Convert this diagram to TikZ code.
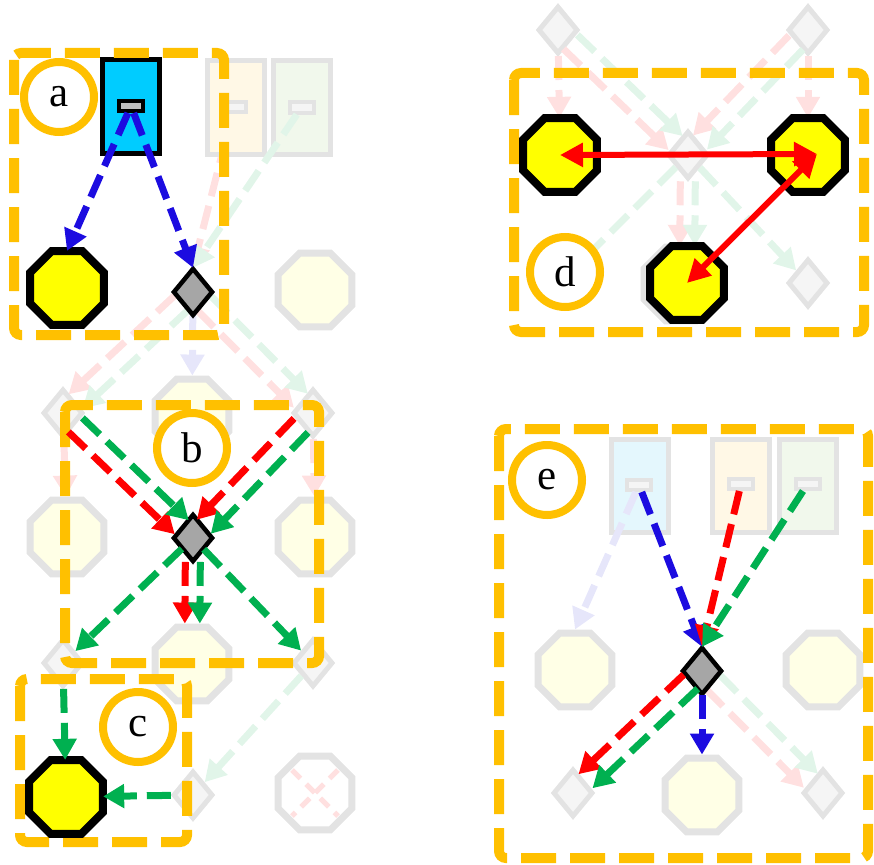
\documentclass[tikz,border=0pt]{standalone}
\usepackage{fontspec}
\setmainfont{Liberation Serif}
\usetikzlibrary{shapes.geometric,arrows.meta}

\definecolor{boxorange}{RGB}{255,192,0}
\definecolor{hired}{RGB}{255,0,0}
\definecolor{higreen}{RGB}{0,176,80}
\definecolor{hiblue}{RGB}{28,12,224}
\definecolor{hicyan}{RGB}{0,204,255}
\definecolor{hiyellow}{RGB}{255,255,0}
\definecolor{digray}{RGB}{166,166,166}
\definecolor{portgray}{RGB}{192,192,192}
\definecolor{fadeline}{RGB}{227,227,227}
\definecolor{fadefill}{RGB}{245,245,245}
\definecolor{fadeyellow}{RGB}{255,255,230}
\definecolor{fadered}{RGB}{255,224,224}
\definecolor{fadegreen}{RGB}{225,245,233}
\definecolor{fadeblue}{RGB}{230,230,250}
\definecolor{fadecyan}{RGB}{228,247,253}
\definecolor{fadeorange}{RGB}{255,248,230}
\definecolor{fadelime}{RGB}{241,248,236}

\tikzset{
  oct/.style={regular polygon, regular polygon sides=8, minimum size=80pt, inner sep=0pt},
  hioct/.style={oct, draw=black, line width=8pt, fill=hiyellow},
  faoct/.style={oct, draw=fadeline, line width=7pt, fill=fadeyellow},
  dia/.style={diamond, minimum width=40pt, minimum height=48pt, inner sep=0pt},
  hidia/.style={dia, draw=black, line width=4.5pt, fill=digray},
  fadia/.style={dia, draw=fadeline, line width=5pt, fill=fadefill},
  blk/.style={rectangle, minimum width=57pt, minimum height=93pt, inner sep=0pt, line width=5pt},
  hiblk/.style={blk, draw=black, fill=hicyan},
  fablk/.style={blk, draw=fadeline, fill=#1},
  port/.style={rectangle, minimum width=24pt, minimum height=10pt, inner sep=0pt, line width=4pt},
  hiport/.style={port, draw=black, fill=portgray},
  faport/.style={port, draw=fadeline, fill=fadefill},
  tag/.style={circle, draw=boxorange, line width=8pt, fill=white, minimum size=70pt,
    inner sep=0pt, font=\fontsize{43pt}{43pt}\selectfont},
  panel/.style={draw=boxorange, line width=10pt, dash pattern=on 35pt off 14pt,
    rounded corners=7pt},
  tip/.style={-{Triangle[length=21pt,width=23pt]}},
  flow/.style={line width=7pt, dash pattern=on 24pt off 10pt, tip},
  blueflow/.style={flow, draw=hiblue},
  redflow/.style={flow, draw=hired},
  greenflow/.style={flow, draw=higreen},
  pinkflow/.style={flow, draw=fadered},
  mintflow/.style={flow, draw=fadegreen},
  lavflow/.style={flow, draw=fadeblue},
  lnk/.style={line width=6pt, draw=hired,
    {Triangle[length=23pt,width=23pt]}-{Triangle[length=23pt,width=23pt]}},
  nudge/.style={transform canvas={shift={#1}}}
}

\begin{document}
\begin{tikzpicture}[x=1pt,y=-1pt]
\useasboundingbox (0,0) rectangle (874,864);

% anchor-only nodes for the highlighted shapes (painted further down)
\node[dia] (d1) at (193,292) {};
\node[oct] (o1) at (67,288) {};
\node[dia] (d4) at (193,538) {};
\node[oct] (o7) at (66,797) {};
\node[oct] (o9) at (560,155) {};
\node[oct] (o10) at (808,155) {};
\node[oct] (o11) at (687,283) {};
\node[dia] (d12) at (702,671) {};

% ---------- left graph: source blocks ----------
\coordinate (pbc) at (234,107);
\draw[pinkflow] (pbc) -- (d1.north);
\node[hiblk] (ra) at (131,106.5) {};
\node[hiport] (pa) at (131,106) {};
\node[fablk=fadeorange] (rb) at (235.5,107.5) {};
\node[faport] (pb) at (pbc) {};
\node[fablk=fadelime] (rc) at (301.5,107.5) {};
\node[faport] (pc) at (301.5,107.5) {};

% ---------- left graph: faded nodes ----------
\node[faoct] (o2) at (315,290) {};
\node[fadia] (d2) at (63,413) {};
\node[faoct] (o3) at (192,416) {};
\node[fadia] (d3) at (313,413) {};
\node[faoct] (o4) at (67,537) {};
\node[faoct] (o5) at (315,537) {};
\node[fadia] (d5) at (63,663) {};
\node[faoct] (o6) at (192,664) {};
\node[fadia] (d6) at (313,663) {};
\node[fadia] (d7) at (193,795) {};
\node[faoct, fill=white] (o8) at (315,793) {};

% ---------- right upper graph: faded nodes ----------
\node[fadia] (d8) at (558,30) {};
\node[fadia] (d9) at (808,30) {};
\node[fadia] (d10) at (688,155) {};
\node[fadia] (d11) at (808,283) {};
\node[faoct] (o11b) at (681,284) {};
\coordinate (dhid) at (560,283);

% ---------- right lower graph: faded nodes ----------
\node[fablk=fadecyan] (re1) at (640,485.5) {};
\node[faport] (pe1) at (639,485) {};
\node[fablk=fadeorange] (re2) at (741,485.5) {};
\node[faport] (pe2) at (741,484) {};
\node[fablk=fadelime] (re3) at (808,485.5) {};
\node[faport] (pe3) at (807.5,484) {};
\node[faoct] (o12) at (575,670) {};
\node[faoct] (o13) at (823,670) {};
\node[fadia] (d13) at (573,793) {};
\node[faoct] (o14) at (702,795) {};
\node[fadia] (d14) at (823,793) {};

% ---------- faded connectors ----------
\draw[mintflow] (pc) -- (d1.north);
\draw[lavflow] (d1) -- (o3);
\draw[pinkflow, nudge={(-7pt,7pt)}] (d1) -- (d2);
\draw[mintflow, nudge={(7pt,-7pt)}] (d1) -- (d2);
\draw[pinkflow, nudge={(-7pt,-7pt)}] (d1) -- (d3);
\draw[mintflow, nudge={(7pt,7pt)}] (d1) -- (d3);
\draw[pinkflow] (d2) -- (o4);
\draw[pinkflow] (d3) -- (o5);
\draw[mintflow] (d6) -- (d7);
\draw[fadered, line width=5pt, dash pattern=on 12pt off 8pt]
  ([shift={(-23pt,23pt)}]o8.center) -- ([shift={(23pt,-23pt)}]o8.center);
\draw[fadered, line width=5pt, dash pattern=on 12pt off 8pt]
  ([shift={(23pt,23pt)}]o8.center) -- ([shift={(-23pt,-23pt)}]o8.center);

\draw[pinkflow] (d8) -- (o9);
\draw[pinkflow] (d9) -- (o10);
\draw[pinkflow, nudge={(-7pt,-7pt)}] (d8) -- (d10);
\draw[mintflow, nudge={(7pt,7pt)}] (d8) -- (d10);
\draw[pinkflow, nudge={(-7pt,7pt)}] (d9) -- (d10);
\draw[mintflow, nudge={(7pt,-7pt)}] (d9) -- (d10);
\draw[pinkflow, nudge={(-7.5pt,0pt)}] (d10) -- (o11);
\draw[mintflow, nudge={(7.5pt,0pt)}] (d10) -- (o11);
\draw[mintflow] (d10) -- (d11);
\draw[mintflow] (d10) -- (dhid);

\draw[lavflow] (pe1) -- (o12.north);
\draw[pinkflow, nudge={(-7pt,-7pt)}] (d12) -- (d14);
\draw[mintflow, nudge={(7pt,7pt)}] (d12) -- (d14);

% ---------- panel frames ----------
\draw[panel] (14,53) rectangle (224,335);
\draw[panel] (65,405) rectangle (319,663);
\draw[panel] (20,679) rectangle (187,842);
\draw[panel] (514,73) rectangle (864,332);
\draw[panel] (499,429) rectangle (868,858);

% ---------- highlighted nodes ----------
\node[hioct] at (o1) {};
\node[hidia] at (d1) {};
\node[hidia] at (d4) {};
\node[hioct] at (o7) {};
\node[hioct] at (o9) {};
\node[hioct] at (o10) {};
\node[hioct] at (o11) {};
\node[hidia] at (d12) {};
\coordinate (tipR) at (817,154);

% ---------- highlighted connectors ----------
\draw[blueflow] (pa) -- (o1.north);
\draw[blueflow] (pa) -- (d1.north);

\draw[redflow, nudge={(-7pt,-7pt)}] (d2) -- (d4);
\draw[greenflow, nudge={(7pt,7pt)}] (d2) -- (d4);
\draw[redflow, nudge={(-7pt,7pt)}] (d3) -- (d4);
\draw[greenflow, nudge={(7pt,-7pt)}] (d3) -- (d4);
\draw[redflow, nudge={(-7.5pt,0pt)}] (d4) -- (o6);
\draw[greenflow, nudge={(7.5pt,0pt)}] (d4) -- (o6);
\draw[greenflow] (d4) -- (d5);
\draw[greenflow] (d4) -- (d6);

\draw[greenflow] (d5) -- (o7);
\draw[greenflow] (d7) -- (o7);

\draw[lnk] (o9.center) -- (tipR);
\draw[lnk] (tipR) -- (o11.center);

\draw[blueflow] (pe1) -- (d12.north);
\draw[redflow] (pe2) -- (d12.north);
\draw[greenflow] (pe3) -- (d12.north);
\draw[redflow, nudge={(-7pt,7pt)}] (d12) -- (d13);
\draw[greenflow, nudge={(7pt,-7pt)}] (d12) -- (d13);
\draw[blueflow] (d12) -- (o14);

% ---------- panel tags ----------
\node[tag] (ta) at (59,97) {a};
\node[tag] (tb) at (192,448) {b};
\node[tag] (tc) at (138,727) {c};
\node[tag] (td) at (565,272) {d};
\node[tag] (te) at (547,480) {e};
\end{tikzpicture}
\end{document}
